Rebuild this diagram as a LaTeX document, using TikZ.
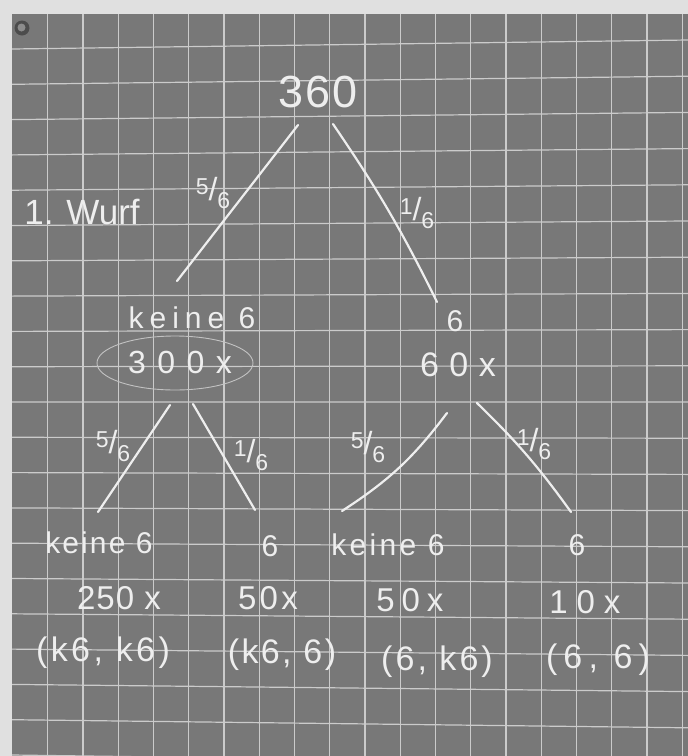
\documentclass[tikz,border=0pt]{standalone}
\usepackage{fontspec}
\usetikzlibrary{calc}
\newfontfamily\chalkfont{Liberation Sans}
\definecolor{board}{HTML}{787878}
\definecolor{gridw}{HTML}{CBCBCB}
\definecolor{chalkw}{HTML}{EEEEEE}
\definecolor{wall}{HTML}{E0E0E0}
\newcommand{\chalkfrac}[2]{\raisebox{0.5ex}{#1}{\fontsize{32}{32}\selectfont/}\raisebox{-0.6ex}{#2}}
\tikzset{
  chalk/.style 2 args={text=chalkw, inner sep=0pt, font=\chalkfont\fontsize{#1}{#1}\selectfont\addfontfeature{LetterSpace=#2}},
  frac/.style={chalk={23}{0}},
  branch/.style={chalkw, line width=2.2pt, line cap=round},
  gridline/.style={gridw, line width=1.2pt},
}
\begin{document}
\begin{tikzpicture}[x=1pt, y=-1pt]
  \useasboundingbox (0,0) rectangle (688,756);
  % Wall and board
  \fill[wall] (0,0) rectangle (688,756);
  \fill[board] (12,14) rectangle (688,756);
  % Grid of the board
  \begin{scope}
    \clip (12,14) rectangle (688,756);
    \foreach \k in {0,...,18}
      \draw[gridline] ({47.8+35.25*\k},14) -- ({47.8+35.25*\k},756);
    \foreach \k in {0,...,20}
      \draw[gridline] (12,{49+35.3*\k}) -- (688,{40+36.2*\k});
  \end{scope}
  % Magnet in the corner
  \fill[black!70] (22,28) circle (7.5);
  \fill[black!45] (21.5,27.5) circle (4);

  % Root and label of the stage
  \node[chalk={45}{5}] (root) at (318,92) {360};
  \node[chalk={35}{0}] (wurf) at (82,212) {1. Wurf};

  % First throw
  \node[chalk={30}{20}] (k) at (192,318) {keine 6};
  \node[chalk={30}{0}] (s) at (455,321) {6};
  \draw[white!55!board, line width=0.9pt] (175,363) ellipse (78 and 27);
  \node[chalk={32}{36}] (kn) at (180,362) {300x};
  \node[chalk={34}{31}] (sn) at (458,365) {60x};

  % Second throw
  \node[chalk={30}{7}] (kk) at (99,543) {keine 6};
  \node[chalk={30}{0}] (ks) at (270,546) {6};
  \node[chalk={30}{11}] (sk) at (388,545) {keine 6};
  \node[chalk={30}{0}] (ss) at (577,545) {6};
  \node[chalk={33}{3}] (kkn) at (119,598) {250 x};
  \node[chalk={33}{10}] (ksn) at (268,598) {50x};
  \node[chalk={33}{21}] (skn) at (410,600) {50x};
  \node[chalk={33}{27}] (ssn) at (585,602) {10x};
  \node[chalk={34}{10}] (kkp) at (103,653) {(k6, k6)};
  \node[chalk={34}{7}] (ksp) at (282,655) {(k6, 6)};
  \node[chalk={34}{9}] (skp) at (437,662) {(6, k6)};
  \node[chalk={34}{18}] (ssp) at (598,660) {(6, 6)};

  % Branch ends
  \coordinate (a1) at (298,125); \coordinate (a2) at (177,281);
  \coordinate (b1) at (333,124); \coordinate (b2) at (437,302);
  \coordinate (c1) at (170,405); \coordinate (c2) at (98,512);
  \coordinate (d1) at (193,404); \coordinate (d2) at (255,510);
  \coordinate (e1) at (447,413); \coordinate (e2) at (342,511);
  \coordinate (f1) at (477,403); \coordinate (f2) at (571,512);
  % Branches
  \draw[branch] (a1) -- (a2);
  \draw[branch] (b1) to[bend left=4] (b2);
  \draw[branch] (c1) -- (c2);
  \draw[branch] (d1) -- (d2);
  \draw[branch] (e1) to[bend left=10] (e2);
  \draw[branch] (f1) to[bend left=5] (f2);
  % Probabilities on the branches
  \node[frac] (pA) at (213,193) {\chalkfrac{5}{6}};
  \node[frac] (pB) at (417,213) {\chalkfrac{1}{6}};
  \node[frac] (pC) at (113,446) {\chalkfrac{5}{6}};
  \node[frac] (pD) at (251,455) {\chalkfrac{1}{6}};
  \node[frac] (pE) at (368,447) {\chalkfrac{5}{6}};
  \node[frac] (pF) at (534,444) {\chalkfrac{1}{6}};
\end{tikzpicture}
\end{document}
